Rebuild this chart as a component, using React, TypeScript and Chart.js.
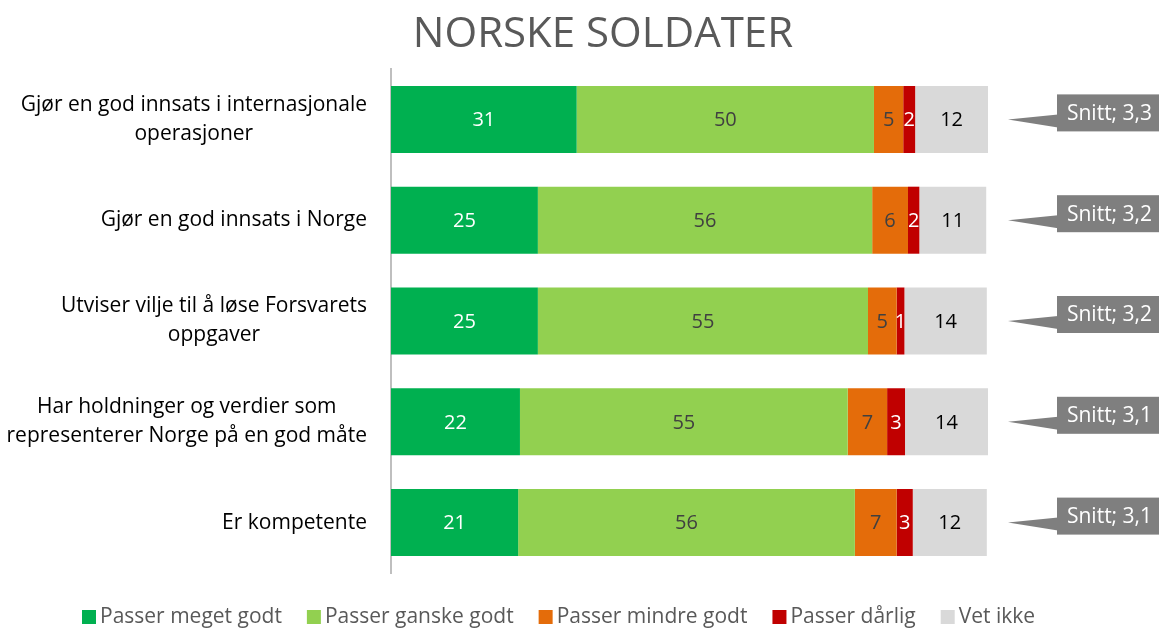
import React, { useEffect, useRef } from "react";
import { Chart, registerables } from "chart.js";

Chart.register(...registerables);

const titleText = "NORSKE SOLDATER";

const categories: string[][] = [
  ["Gjør en god innsats i internasjonale", "operasjoner"],
  ["Gjør en god innsats i Norge"],
  ["Utviser vilje til å løse Forsvarets", "oppgaver"],
  ["Har holdninger og verdier som", "representerer Norge på en god måte"],
  ["Er kompetente"],
];

const seriesNames = [
  "Passer meget godt",
  "Passer ganske godt",
  "Passer mindre godt",
  "Passer dårlig",
  "Vet ikke",
];

// Percent values (labels show them rounded)
const megetGodt = [31.1, 24.6, 24.6, 21.6, 21.3];
const ganskeGodt = [49.8, 56.0, 55.3, 54.9, 56.4];
const mindreGodt = [4.9, 6.0, 4.8, 6.6, 7.0];
const darlig = [2.0, 1.9, 1.3, 3.0, 2.7];
const vetIkke = [12.2, 11.2, 13.8, 13.9, 12.4];

const snitt = ["3,3", "3,2", "3,2", "3,1", "3,1"];

const seriesColors = ["#00B050", "#92D050", "#E46C0A", "#C00000", "#D9D9D9"];
const labelColors = ["#FFFFFF", "#404040", "#404040", "#FFFFFF", "#000000"];

const FONT = '"Open Sans", "Noto Sans", sans-serif';

const titlePlugin = {
  id: "customTitle",
  afterDraw(chart: any) {
    const ctx = chart.ctx;
    ctx.save();
    ctx.font = `42px ${FONT}`;
    ctx.fillStyle = "#595959";
    ctx.textAlign = "center";
    ctx.textBaseline = "middle";
    ctx.fillText(titleText, 603, 35);
    ctx.restore();
  },
};

const categoryLabelPlugin = {
  id: "categoryLabels",
  afterDraw(chart: any) {
    const ctx = chart.ctx;
    const yScale = chart.scales.y;
    const right = chart.chartArea.left - 24;
    ctx.save();
    ctx.font = `21px ${FONT}`;
    ctx.fillStyle = "#000000";
    ctx.textAlign = "center";
    ctx.textBaseline = "middle";
    categories.forEach((lines, i) => {
      const cy = yScale.getPixelForValue(i);
      const maxW = Math.max(...lines.map((l) => ctx.measureText(l).width));
      const cx = right - maxW / 2;
      lines.forEach((l, j) => {
        ctx.fillText(l, cx, cy + (j - (lines.length - 1) / 2) * 29);
      });
    });
    ctx.restore();
  },
};

const dataLabelPlugin = {
  id: "dataLabels",
  afterDatasetsDraw(chart: any) {
    const ctx = chart.ctx;
    ctx.save();
    ctx.font = `20px ${FONT}`;
    ctx.textAlign = "center";
    ctx.textBaseline = "middle";
    chart.data.datasets.forEach((ds: any, di: number) => {
      const meta = chart.getDatasetMeta(di);
      ctx.fillStyle = labelColors[di];
      meta.data.forEach((bar: any, i: number) => {
        const p = bar.getProps(["x", "y", "base"], true);
        const cx = (p.x + p.base) / 2;
        ctx.fillText(String(Math.round(ds.data[i])), cx, p.y + 1);
      });
    });
    ctx.restore();
  },
};

const calloutPlugin = {
  id: "snittCallouts",
  afterDraw(chart: any) {
    const ctx = chart.ctx;
    const yScale = chart.scales.y;
    const area = chart.chartArea;
    const boxLeft = area.right + 69;
    const boxW = 105;
    const tipX = area.right + 20;
    ctx.save();
    snitt.forEach((s, i) => {
      const cy = yScale.getPixelForValue(i);
      const top = cy - 25;
      const h = 37;
      ctx.fillStyle = "#7F7F7F";
      ctx.fillRect(boxLeft, top, boxW, h);
      ctx.beginPath();
      ctx.moveTo(tipX, cy);
      ctx.lineTo(boxLeft + 1, cy - 5);
      ctx.lineTo(boxLeft + 1, cy + 8);
      ctx.closePath();
      ctx.fill();
      ctx.fillStyle = "#FFFFFF";
      ctx.font = `21px ${FONT}`;
      ctx.textAlign = "center";
      ctx.textBaseline = "middle";
      ctx.fillText("Snitt; " + s, boxLeft + boxW / 2, top + h / 2 + 1);
    });
    ctx.restore();
  },
};

const legendPlugin = {
  id: "customLegend",
  afterDraw(chart: any) {
    const ctx = chart.ctx;
    const y = 617;
    let x = 82;
    ctx.save();
    ctx.font = `21px ${FONT}`;
    ctx.textAlign = "left";
    ctx.textBaseline = "middle";
    chart.data.datasets.forEach((ds: any) => {
      ctx.fillStyle = ds.backgroundColor;
      ctx.fillRect(x, y - 7, 14, 14);
      ctx.fillStyle = "#595959";
      ctx.fillText(ds.label, x + 18, y);
      x += 18 + ctx.measureText(ds.label).width + 25;
    });
    ctx.restore();
  },
};

export default function App() {
  const canvasRef = useRef<HTMLCanvasElement | null>(null);

  useEffect(() => {
    document.body.style.margin = "0";
    const canvas = canvasRef.current;
    if (!canvas) return;
    const values = [megetGodt, ganskeGodt, mindreGodt, darlig, vetIkke];
    const chart = new Chart(canvas, {
      type: "bar",
      data: {
        labels: categories.map((c) => c.join(" ")),
        datasets: seriesNames.map((name, i) => ({
          label: name,
          data: values[i],
          backgroundColor: seriesColors[i],
          borderWidth: 0,
          barPercentage: 0.665,
          categoryPercentage: 1,
        })),
      },
      options: {
        indexAxis: "y",
        responsive: false,
        animation: false,
        devicePixelRatio: 1,
        layout: { padding: { top: 69, left: 0, right: 171, bottom: 55 } },
        scales: {
          x: {
            stacked: true,
            min: 0,
            max: 100,
            display: false,
          },
          y: {
            stacked: true,
            position: "left",
            grid: { display: false },
            border: { display: true, color: "#BFBFBF", width: 2 },
            ticks: { display: false },
            afterFit: (scale: any) => {
              scale.width = 391;
            },
          },
        },
        plugins: {
          title: { display: false },
          tooltip: { enabled: false },
          legend: { display: false },
        },
      },
      plugins: [titlePlugin, categoryLabelPlugin, dataLabelPlugin, calloutPlugin, legendPlugin],
    } as any);
    return () => chart.destroy();
  }, []);

  return (
    <div style={{ width: 1159, height: 628 }}>
      <canvas ref={canvasRef} width={1159} height={628} />
    </div>
  );
}
